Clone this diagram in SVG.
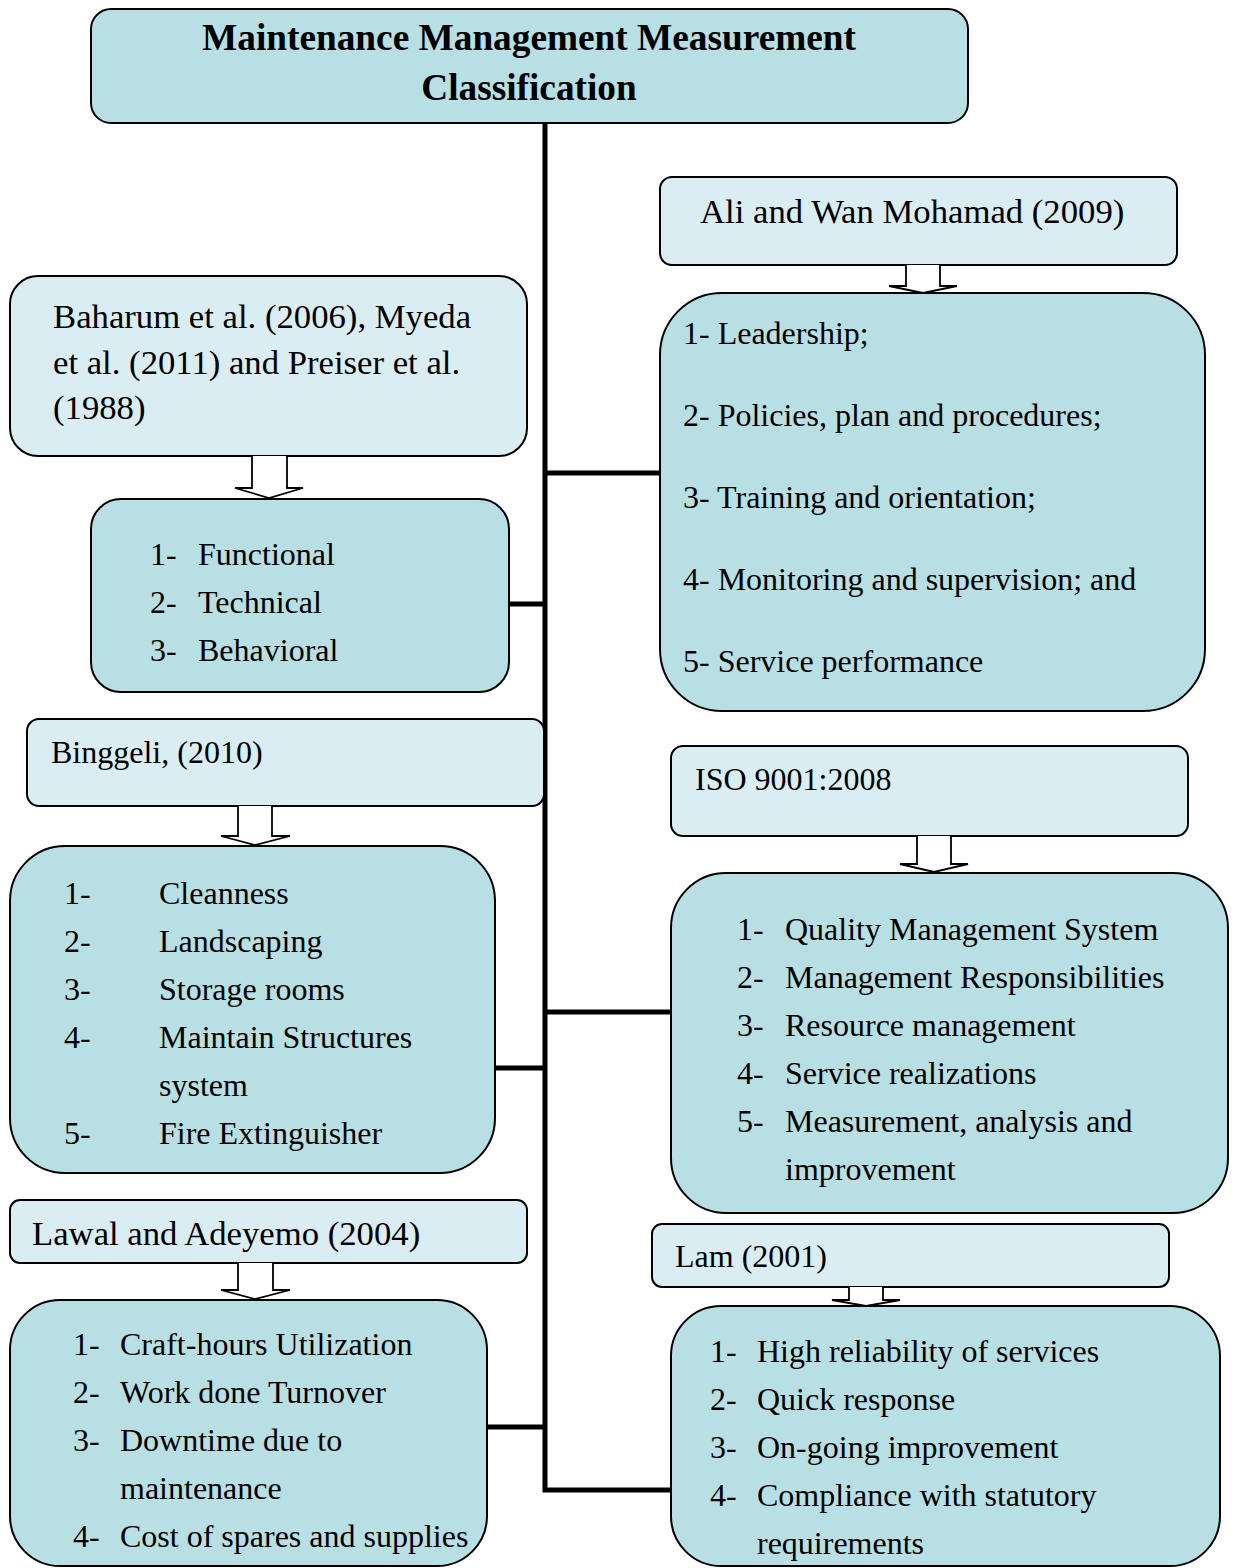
<svg xmlns="http://www.w3.org/2000/svg" width="1236" height="1568" viewBox="0 0 1236 1568">
  <style>
    text { font-family: "Liberation Serif", "Times New Roman", serif; fill: #000; }
    .title { font-size: 37.3px; font-weight: bold; text-anchor: middle; }
    .head { font-size: 34.7px; }
    .item { font-size: 32px; }
    .src { fill: #daedf2; stroke: #000; stroke-width: 2; }
    .list { fill: #b8dfe3; stroke: #000; stroke-width: 2; }
    .down { fill: #fff; stroke: #000; stroke-width: 1.8; stroke-linejoin: miter; }
    .wire { fill: none; stroke: #000; stroke-width: 5; }
  </style>

  <!-- connectors: trunk and branches -->
  <g id="connectors">
    <path class="wire" d="M545,123 V1490 H672"/>
    <path class="wire" d="M545,473 H660"/>
    <path class="wire" d="M509,604 H545"/>
    <path class="wire" d="M495,1068 H545"/>
    <path class="wire" d="M545,1012 H671"/>
    <path class="wire" d="M487,1427 H545"/>
  </g>

  <!-- root -->
  <g id="root">
    <rect class="list" x="91" y="9" width="877" height="114" rx="20"/>
    <text class="title" x="529" y="50">Maintenance Management Measurement</text>
    <text class="title" x="529" y="100">Classification</text>
  </g>

  <!-- Ali and Wan Mohamad -->
  <g id="ali-src">
    <rect class="src" x="660" y="177" width="517" height="88" rx="12"/>
    <text class="head" x="700" y="223">Ali and Wan Mohamad (2009)</text>
  </g>
  <path class="down" d="M906,265 V286 H889 L923,293 L957,286 H940 V265"/>
  <g id="ali-list">
    <rect class="list" x="660" y="293" width="545" height="418" rx="62"/>
    <text class="item" x="683" y="344">1- Leadership;</text>
    <text class="item" x="683" y="426">2- Policies, plan and procedures;</text>
    <text class="item" x="683" y="508">3- Training and orientation;</text>
    <text class="item" x="683" y="590">4- Monitoring and supervision; and</text>
    <text class="item" x="683" y="672">5- Service performance</text>
  </g>

  <!-- Baharum / Myeda / Preiser -->
  <g id="baharum-src">
    <rect class="src" x="10" y="276" width="517" height="180" rx="28"/>
    <text class="head" x="53" y="328">Baharum et al. (2006), Myeda</text>
    <text class="head" x="53" y="374">et al. (2011) and Preiser et al.</text>
    <text class="head" x="53" y="419">(1988)</text>
  </g>
  <path class="down" d="M252,456 V488 H235 L269,498 L303,488 H287 V456"/>
  <g id="baharum-list">
    <rect class="list" x="91" y="499" width="418" height="193" rx="30"/>
    <text class="item" x="150" y="565">1-</text><text class="item" x="198" y="565">Functional</text>
    <text class="item" x="150" y="613">2-</text><text class="item" x="198" y="613">Technical</text>
    <text class="item" x="150" y="661">3-</text><text class="item" x="198" y="661">Behavioral</text>
  </g>

  <!-- Binggeli -->
  <g id="binggeli-src">
    <rect class="src" x="27" y="719" width="517" height="87" rx="12"/>
    <text class="item" x="51" y="763">Binggeli, (2010)</text>
  </g>
  <path class="down" d="M238,806 V836 H221 L255,845 L290,836 H272 V806"/>
  <g id="binggeli-list">
    <rect class="list" x="10" y="846" width="485" height="327" rx="55"/>
    <text class="item" x="64" y="904">1-</text><text class="item" x="159" y="904">Cleanness</text>
    <text class="item" x="64" y="952">2-</text><text class="item" x="159" y="952">Landscaping</text>
    <text class="item" x="64" y="1000">3-</text><text class="item" x="159" y="1000">Storage rooms</text>
    <text class="item" x="64" y="1048">4-</text><text class="item" x="159" y="1048">Maintain Structures</text>
    <text class="item" x="159" y="1096">system</text>
    <text class="item" x="64" y="1144">5-</text><text class="item" x="159" y="1144">Fire Extinguisher</text>
  </g>

  <!-- ISO 9001:2008 -->
  <g id="iso-src">
    <rect class="src" x="671" y="746" width="517" height="90" rx="12"/>
    <text class="item" x="695" y="790">ISO 9001:2008</text>
  </g>
  <path class="down" d="M917,836 V864 H900 L934,872 L968,864 H951 V836"/>
  <g id="iso-list">
    <rect class="list" x="671" y="873" width="557" height="340" rx="55"/>
    <text class="item" x="737" y="940">1-</text><text class="item" x="785" y="940">Quality Management System</text>
    <text class="item" x="737" y="988">2-</text><text class="item" x="785" y="988">Management Responsibilities</text>
    <text class="item" x="737" y="1036">3-</text><text class="item" x="785" y="1036">Resource management</text>
    <text class="item" x="737" y="1084">4-</text><text class="item" x="785" y="1084">Service realizations</text>
    <text class="item" x="737" y="1132">5-</text><text class="item" x="785" y="1132">Measurement, analysis and</text>
    <text class="item" x="785" y="1180">improvement</text>
  </g>

  <!-- Lawal and Adeyemo -->
  <g id="lawal-src">
    <rect class="src" x="10" y="1200" width="517" height="63" rx="10"/>
    <text class="head" x="32" y="1245">Lawal and Adeyemo (2004)</text>
  </g>
  <path class="down" d="M238,1263 V1290 H221 L255,1299 L290,1290 H273 V1263"/>
  <g id="lawal-list">
    <rect class="list" x="10" y="1300" width="477" height="266" rx="50"/>
    <text class="item" x="73" y="1355">1-</text><text class="item" x="120" y="1355">Craft-hours Utilization</text>
    <text class="item" x="73" y="1403">2-</text><text class="item" x="120" y="1403">Work done Turnover</text>
    <text class="item" x="73" y="1451">3-</text><text class="item" x="120" y="1451">Downtime due to</text>
    <text class="item" x="120" y="1499">maintenance</text>
    <text class="item" x="73" y="1547">4-</text><text class="item" x="120" y="1547">Cost of spares and supplies</text>
  </g>

  <!-- Lam -->
  <g id="lam-src">
    <rect class="src" x="652" y="1224" width="517" height="63" rx="10"/>
    <text class="item" x="675" y="1267">Lam (2001)</text>
  </g>
  <path class="down" d="M849,1287 V1300 H832 L866,1306 L900,1300 H883 V1287"/>
  <g id="lam-list">
    <rect class="list" x="671" y="1306" width="549" height="260" rx="50"/>
    <text class="item" x="710" y="1362">1-</text><text class="item" x="757" y="1362">High reliability of services</text>
    <text class="item" x="710" y="1410">2-</text><text class="item" x="757" y="1410">Quick response</text>
    <text class="item" x="710" y="1458">3-</text><text class="item" x="757" y="1458">On-going improvement</text>
    <text class="item" x="710" y="1506">4-</text><text class="item" x="757" y="1506">Compliance with statutory</text>
    <text class="item" x="757" y="1554">requirements</text>
  </g>
</svg>
